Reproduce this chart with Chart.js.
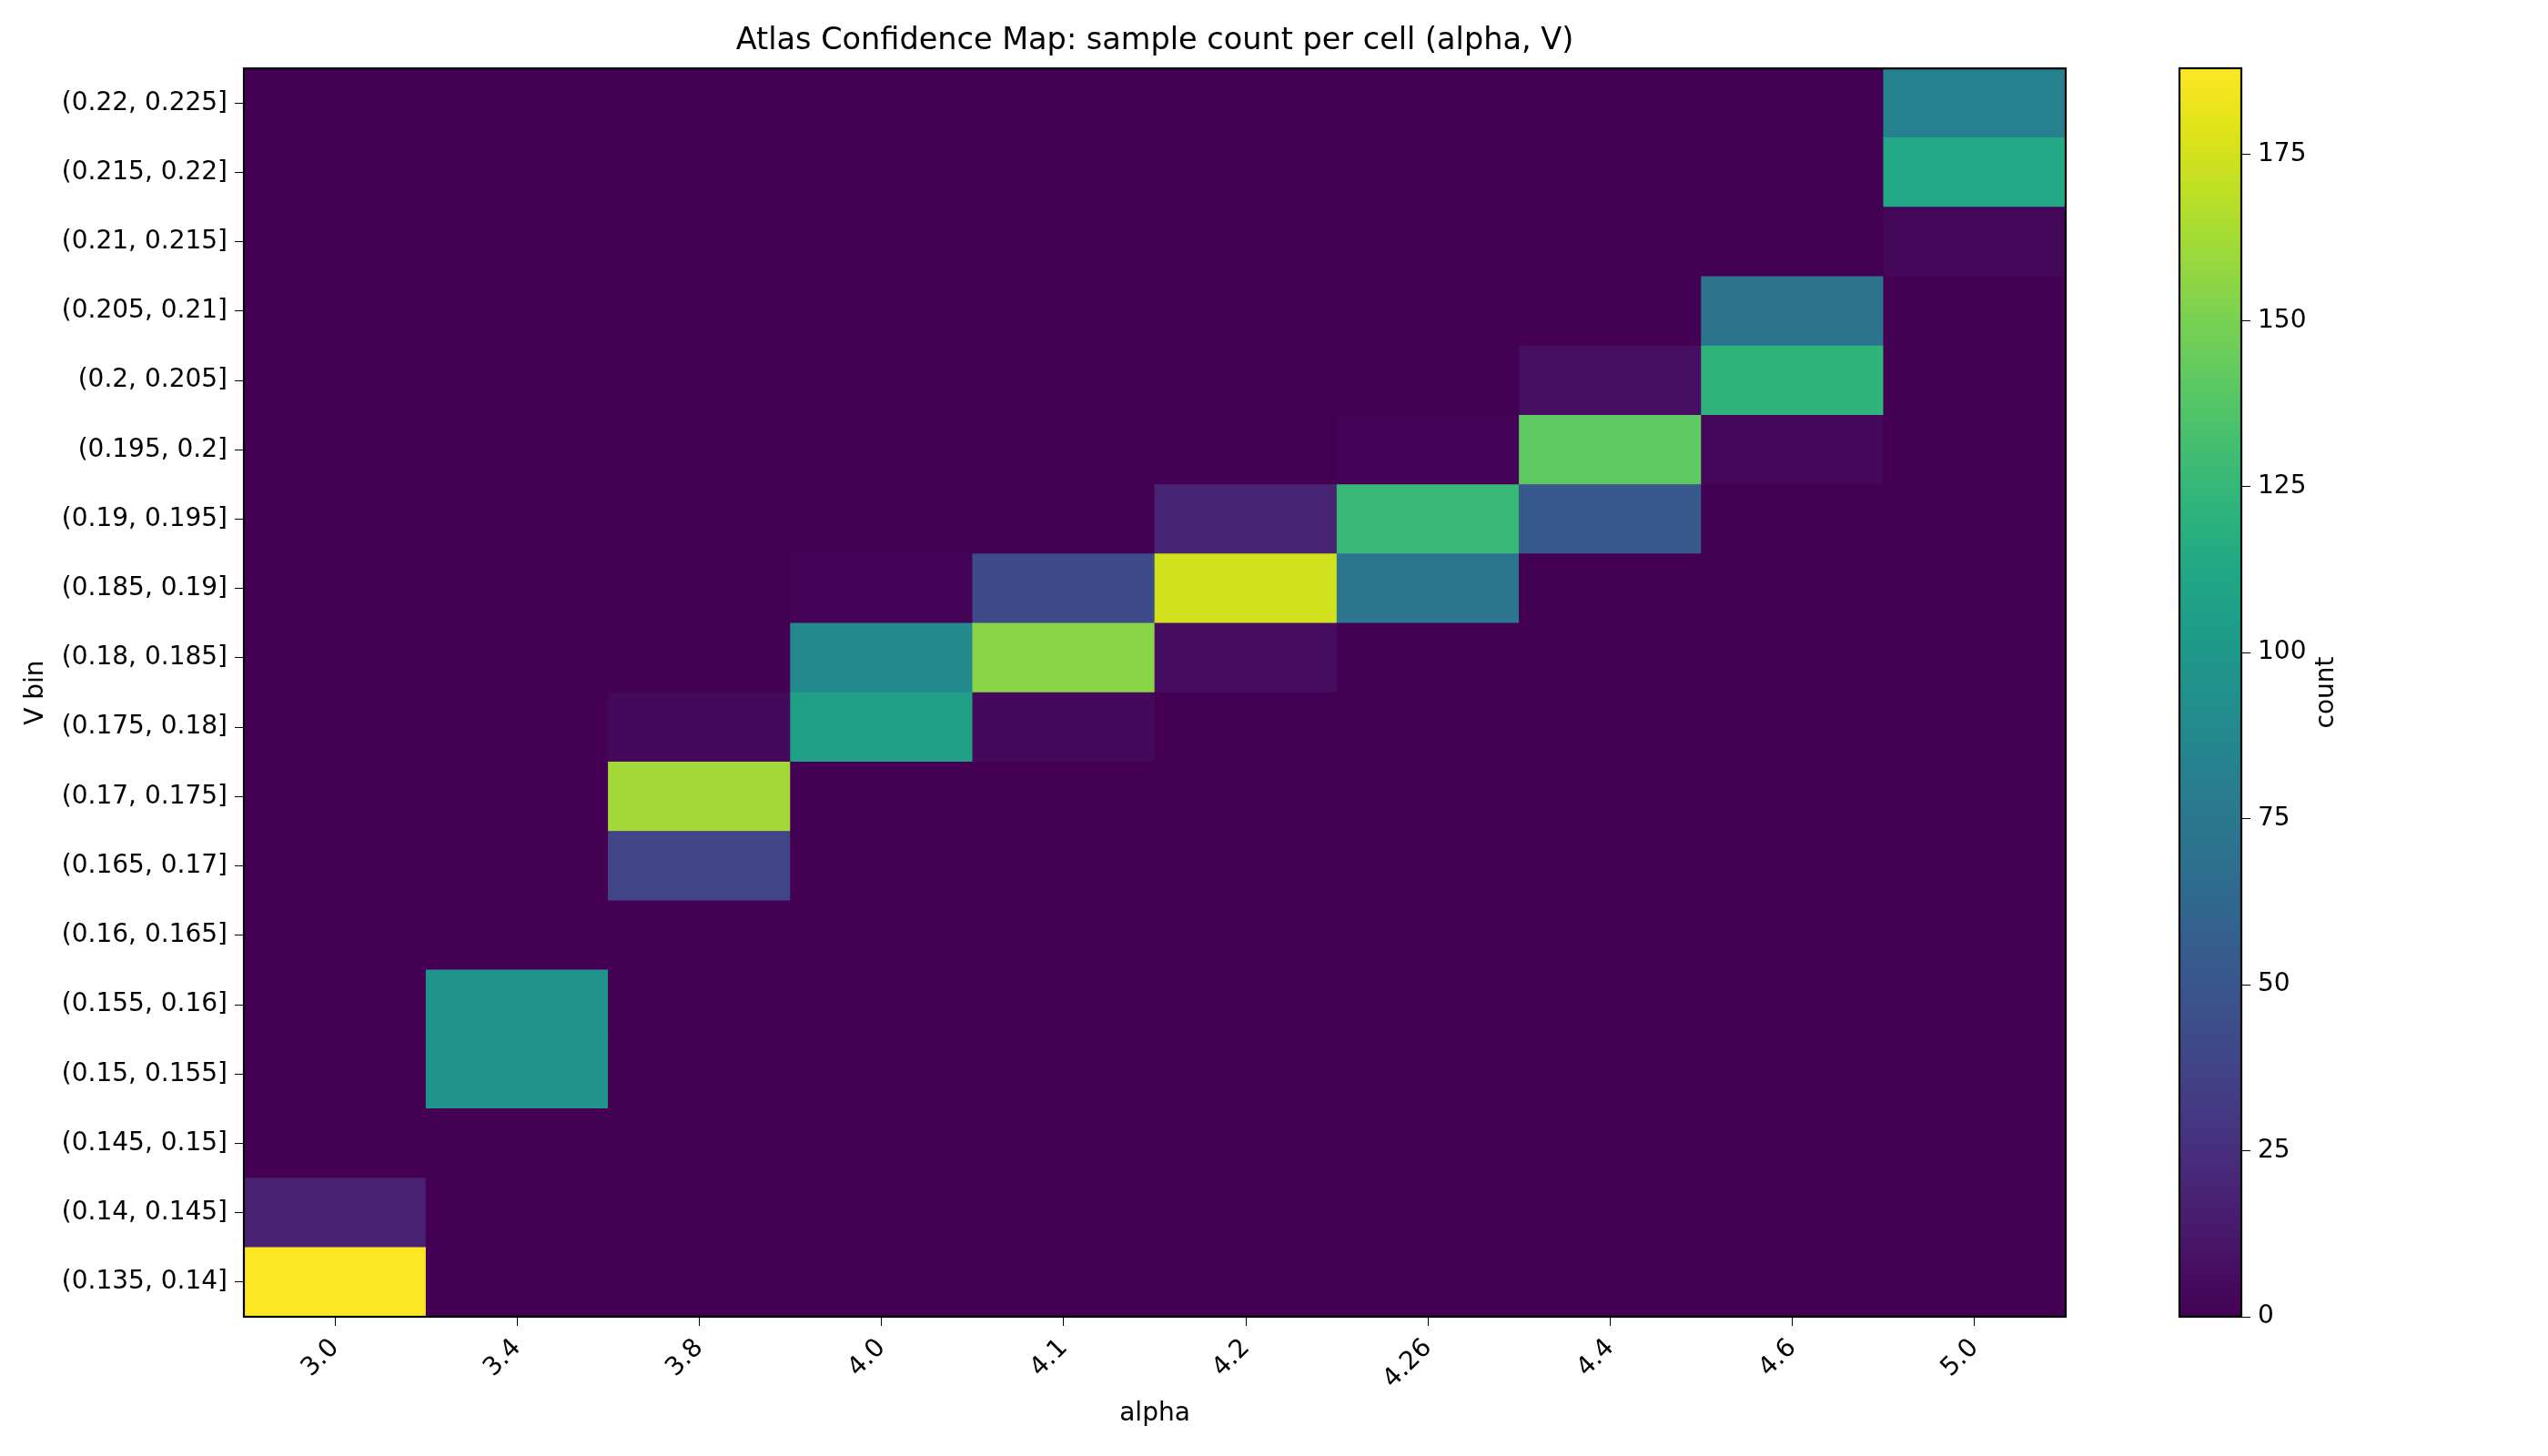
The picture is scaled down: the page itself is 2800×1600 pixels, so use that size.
<!DOCTYPE html>
<html>
<head>
<meta charset="utf-8">
<script src="https://cdn.jsdelivr.net/npm/chart.js@4.4.1/dist/chart.umd.min.js"></script>
<style>
  html, body { margin: 0; padding: 0; background: #fff; }
  #wrap { position: relative; width: 2800px; height: 1600px; }
  #heatmap { position: absolute; left: 0; top: 0; }
  #colorbar { position: absolute; left: 2385px; top: 0; }
</style>
</head>
<body>
<div id="wrap">
  <canvas id="heatmap" width="2800" height="1600"></canvas>
  <canvas id="colorbar" width="415" height="1600"></canvas>
</div>
<script>
// --- data ---
const alphaLabels = ['3.0', '3.4', '3.8', '4.0', '4.1', '4.2', '4.26', '4.4', '4.6', '5.0'];

// V bins, bottom to top
const vBins = [
    '(0.135, 0.14]', '(0.14, 0.145]', '(0.145, 0.15]', '(0.15, 0.155]',
    '(0.155, 0.16]', '(0.16, 0.165]', '(0.165, 0.17]', '(0.17, 0.175]',
    '(0.175, 0.18]', '(0.18, 0.185]', '(0.185, 0.19]', '(0.19, 0.195]',
    '(0.195, 0.2]', '(0.2, 0.205]', '(0.205, 0.21]', '(0.21, 0.215]',
    '(0.215, 0.22]', '(0.22, 0.225]'
];

// sample counts per alpha column, one value per V bin (bottom to top)
const countsA30  = [188, 17, 0, 0, 0, 0, 0, 0, 0, 0, 0, 0, 0, 0, 0, 0, 0, 0];
const countsA34  = [0, 0, 0, 96, 96, 0, 0, 0, 0, 0, 0, 0, 0, 0, 0, 0, 0, 0];
const countsA38  = [0, 0, 0, 0, 0, 0, 38, 162, 4, 0, 0, 0, 0, 0, 0, 0, 0, 0];
const countsA40  = [0, 0, 0, 0, 0, 0, 0, 0, 107, 88, 1, 0, 0, 0, 0, 0, 0, 0];
const countsA41  = [0, 0, 0, 0, 0, 0, 0, 0, 4, 155, 42, 0, 0, 0, 0, 0, 0, 0];
const countsA42  = [0, 0, 0, 0, 0, 0, 0, 0, 0, 6, 175, 19, 0, 0, 0, 0, 0, 0];
const countsA426 = [0, 0, 0, 0, 0, 0, 0, 0, 0, 0, 73, 126, 1, 0, 0, 0, 0, 0];
const countsA44  = [0, 0, 0, 0, 0, 0, 0, 0, 0, 0, 0, 52, 141, 7, 0, 0, 0, 0];
const countsA46  = [0, 0, 0, 0, 0, 0, 0, 0, 0, 0, 0, 0, 3, 122, 72, 0, 0, 0];
const countsA50  = [0, 0, 0, 0, 0, 0, 0, 0, 0, 0, 0, 0, 0, 0, 0, 3, 113, 82];

const columns = [countsA30, countsA34, countsA38, countsA40, countsA41,
                 countsA42, countsA426, countsA44, countsA46, countsA50];

// --- colour map (viridis) ---
const viridis = ['#440154', '#471365', '#482475', '#463480', '#414487', '#3b528b',
    '#355f8d', '#2f6c8e', '#2a788e', '#25848e', '#21918c', '#1e9c89', '#22a884',
    '#2fb47c', '#44bf70', '#5ec962', '#7ad151', '#9bd93c', '#bddf26', '#dfe318', '#fde725'];

function hexToRgb(h) {
    return [parseInt(h.slice(1, 3), 16), parseInt(h.slice(3, 5), 16), parseInt(h.slice(5, 7), 16)];
}
function colorFor(t) {
    t = Math.max(0, Math.min(1, t));
    const pos = t * (viridis.length - 1);
    const i = Math.min(Math.floor(pos), viridis.length - 2);
    const f = pos - i;
    const a = hexToRgb(viridis[i]), b = hexToRgb(viridis[i + 1]);
    const c = a.map((v, k) => Math.round(v + (b[k] - v) * f));
    return `rgb(${c[0]},${c[1]},${c[2]})`;
}

const vmax = Math.max(...columns.map(c => Math.max(...c)));

Chart.defaults.font.family = "'DejaVu Sans', sans-serif";
Chart.defaults.color = '#000';
Chart.defaults.animation = false;

// black frame round the plot area
const framePlugin = {
    id: 'frame',
    afterDatasetsDraw(chart) {
        const a = chart.chartArea, ctx = chart.ctx;
        ctx.save();
        ctx.strokeStyle = '#000';
        ctx.lineWidth = 2.2;
        ctx.strokeRect(a.left, a.top, a.right - a.left, a.bottom - a.top);
        ctx.restore();
    }
};

// dark under-fill so anti-aliased seams between cells don't show white
const underfillPlugin = {
    id: 'underfill',
    beforeDatasetsDraw(chart) {
        const a = chart.chartArea, ctx = chart.ctx;
        ctx.save();
        ctx.fillStyle = viridis[0];
        ctx.fillRect(a.left, a.top, a.right - a.left, a.bottom - a.top);
        ctx.restore();
    }
};

// --- heatmap: one stacked dataset per V bin ---
const heatDatasets = vBins.map((bin, r) => ({
    label: bin,
    data: alphaLabels.map(() => 1),
    backgroundColor: columns.map(col => colorFor(col[r] / vmax)),
    borderWidth: 0,
    barPercentage: 1,
    categoryPercentage: 1
}));

new Chart(document.getElementById('heatmap'), {
    type: 'bar',
    data: { labels: alphaLabels, datasets: heatDatasets },
    plugins: [underfillPlugin, framePlugin],
    options: {
        responsive: false,
        layout: { padding: { left: 0, right: 530, top: 0, bottom: 0 } },
        plugins: {
            legend: { display: false },
            tooltip: { enabled: false },
            title: {
                display: true,
                fullSize: false,
                text: 'Atlas Confidence Map: sample count per cell (alpha, V)',
                font: { size: 33.5, weight: 'normal' },
                color: '#000',
                padding: { top: 25, bottom: 10 }
            }
        },
        scales: {
            x: {
                stacked: true,
                grid: { display: true, drawOnChartArea: false, drawTicks: true, tickLength: 10, color: '#000', offset: false },
                border: { display: false },
                ticks: { font: { size: 28 }, minRotation: 45, maxRotation: 45, padding: 8 },
                title: { display: true, text: 'alpha', font: { size: 28 }, padding: { top: 4, bottom: 29 } },
                afterFit(s) { s.height = 153; }
            },
            y: {
                stacked: true,
                min: 0,
                max: vBins.length,
                grid: { display: true, drawOnChartArea: false, drawTicks: true, tickLength: 10, color: '#000' },
                border: { display: false },
                afterBuildTicks(s) { s.ticks = vBins.map((b, i) => ({ value: i + 0.5 })); },
                ticks: {
                    font: { size: 28 },
                    padding: 8,
                    autoSkip: false,
                    callback: v => vBins[Math.floor(v)]
                },
                title: { display: true, text: 'V bin', font: { size: 28 }, padding: { top: 23, bottom: 4 } },
                afterFit(s) { s.width = 268; }
            }
        }
    }
});

// --- colour bar ---
const countLabelPlugin = {
    id: 'countLabel',
    afterDraw(chart) {
        const a = chart.chartArea, ctx = chart.ctx;
        ctx.save();
        ctx.translate(172, (a.top + a.bottom) / 2);
        ctx.rotate(-Math.PI / 2);
        ctx.font = "28px 'DejaVu Sans', sans-serif";
        ctx.fillStyle = '#000';
        ctx.textAlign = 'center';
        ctx.textBaseline = 'middle';
        ctx.fillText('count', 0, 0);
        ctx.restore();
    }
};

new Chart(document.getElementById('colorbar'), {
    type: 'bar',
    data: {
        labels: [''],
        datasets: [{
            data: [[0, vmax]],
            barPercentage: 1,
            categoryPercentage: 1,
            borderWidth: 0,
            backgroundColor(ctx) {
                const a = ctx.chart.chartArea;
                if (!a) return viridis[0];
                const g = ctx.chart.ctx.createLinearGradient(0, a.bottom, 0, a.top);
                viridis.forEach((c, i) => g.addColorStop(i / (viridis.length - 1), c));
                return g;
            }
        }]
    },
    plugins: [framePlugin, countLabelPlugin],
    options: {
        responsive: false,
        layout: { padding: { left: 10, right: 0, top: 75, bottom: 153 } },
        plugins: { legend: { display: false }, tooltip: { enabled: false } },
        scales: {
            x: { display: false },
            y: {
                position: 'right',
                min: 0,
                max: vmax,
                grid: { display: true, drawOnChartArea: false, drawTicks: true, tickLength: 10, color: '#000' },
                border: { display: false },
                afterBuildTicks(s) { s.ticks = s.ticks.filter(t => t.value % 25 === 0); },
                ticks: { stepSize: 25, font: { size: 28 }, padding: 8 },
                afterFit(s) { s.width = 415 - 10 - 68; }
            }
        }
    }
});
</script>
</body>
</html>
